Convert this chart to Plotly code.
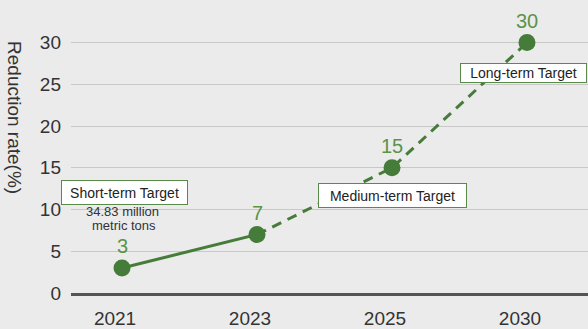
import plotly.graph_objects as go

# Reduction targets by year
years = ["2021", "2023", "2025", "2030"]
reduction = [3, 7, 15, 30]
solid_upto = 2  # first two points are actual (solid), rest projected (dashed)

y_ticks = [0, 5, 10, 15, 20, 25, 30]

BG = "#ebebeb"
GREEN = "#467c39"
LABEL_GREEN = "#5a9447"
TEXT = "#333333"
FONT = "Liberation Sans, Arial, sans-serif"

fig = go.Figure()

fig.add_trace(go.Scatter(
    x=years[:solid_upto], y=reduction[:solid_upto],
    mode="lines",
    line=dict(color=GREEN, width=3),
    hoverinfo="skip", showlegend=False,
))
fig.add_trace(go.Scatter(
    x=years[solid_upto - 1:], y=reduction[solid_upto - 1:],
    mode="lines",
    line=dict(color=GREEN, width=3, dash="10px,7px"),
    hoverinfo="skip", showlegend=False,
))
fig.add_trace(go.Scatter(
    x=years, y=reduction,
    mode="markers",
    marker=dict(color=GREEN, size=17),
    hoverinfo="skip", showlegend=False, cliponaxis=False,
))

annotations = []

# value labels just above each marker (x is the category index)
for i, v in enumerate(reduction):
    annotations.append(dict(
        x=i, y=v, xref="x", yref="y", text=str(v), showarrow=False,
        xanchor="center", yanchor="middle", yshift=22, borderpad=0,
        font=dict(family=FONT, size=20, color=LABEL_GREEN),
    ))

# target boxes
def box(text, x, y, w, h):
    return dict(
        x=x, y=y, xref="paper", yref="paper", text=text, showarrow=False,
        width=w, height=h, bgcolor="white", bordercolor="#5a8a4a",
        borderwidth=1, borderpad=0, xanchor="center", yanchor="middle",
        font=dict(family=FONT, size=14, color="#222222"),
    )

annotations.append(box("Short-term Target", 0.1035, 0.344, 125, 23))
annotations.append(box("Medium-term Target", 0.622, 0.334, 147, 23))
annotations.append(box("Long-term Target", 0.875, 0.7525, 125, 18))

# emissions note under the short-term box
annotations.append(dict(
    x=0.1005, y=0.278, xref="paper", yref="paper", text="34.83 million",
    xanchor="center", yanchor="middle", borderpad=0,
    showarrow=False, font=dict(family=FONT, size=13, color=TEXT),
))
annotations.append(dict(
    x=0.1025, y=0.230, xref="paper", yref="paper", text="metric tons",
    xanchor="center", yanchor="middle", borderpad=0,
    showarrow=False, font=dict(family=FONT, size=13, color=TEXT),
))

# y-axis title reading top to bottom
annotations.append(dict(
    x=-0.108, y=0.6, xref="paper", yref="paper", text="Reduction rate(%)",
    xanchor="center", yanchor="middle",
    showarrow=False, textangle=90,
    font=dict(family=FONT, size=19, color=TEXT),
))

fig.update_layout(
    width=588, height=329,
    margin=dict(l=71, r=0, t=0, b=34),
    paper_bgcolor=BG, plot_bgcolor=BG,
    annotations=annotations,
    xaxis=dict(
        type="category", range=[-0.378, 3.452],
        showgrid=False, zeroline=False,
        showline=True, linecolor="#555555", linewidth=2.5,
        ticks="", ticklabelstandoff=6, ticklabelshift=-7,
        tickfont=dict(family=FONT, size=19, color=TEXT),
    ),
    yaxis=dict(
        range=[0, 35.1], tickvals=y_ticks,
        showgrid=True, gridcolor="#c8c8c8", gridwidth=1,
        zeroline=False, showline=False,
        ticks="", ticklabelstandoff=9,
        tickfont=dict(family=FONT, size=19, color=TEXT),
    ),
)

fig.write_html("out.html")
